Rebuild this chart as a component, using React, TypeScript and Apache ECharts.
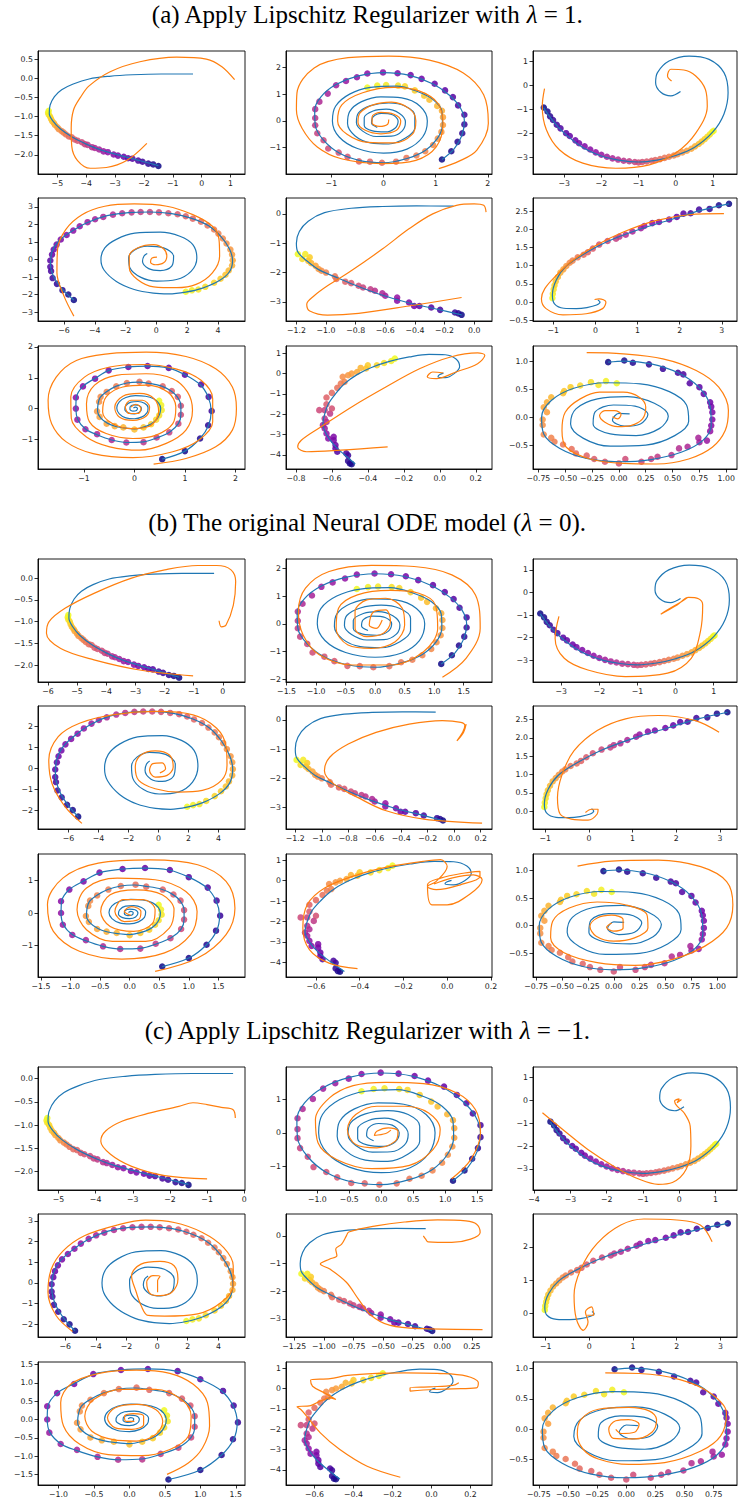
import React, { useEffect, useRef } from "react";
import * as echarts from "echarts";

type Pts = number[][];

const TITLES = [
  "(a) Apply Lipschitz Regularizer with {i|λ} = 1.",
  "(b) The original Neural ODE model ({i|λ} = 0).",
  "(c) Apply Lipschitz Regularizer with {i|λ} = −1.",
];

// ---------- ground-truth trajectories (blue), shared by the three sections ----------
const BLUE_1: Pts = [[-1.5,-2.28],[-2.0,-2.18],[-2.5,-2.08],[-3.0,-1.98],[-3.5,-1.87],[-4.0,-1.72],[-4.5,-1.53],[-4.9,-1.32],[-5.15,-1.12],[-5.28,-0.92],[-5.25,-0.7],[-5.1,-0.48],[-4.85,-0.3],[-4.45,-0.15],[-3.9,-0.02],[-3.2,0.05],[-2.4,0.09],[-1.4,0.11],[-0.3,0.11]];
const BLUE_2: Pts = [[1.12,-1.44],[1.35,-1.05],[1.5,-0.55],[1.55,0.0],[1.47,0.5],[1.27,0.95],[0.95,1.38],[0.5,1.7],[0.0,1.8],[-0.5,1.67],[-0.92,1.35],[-1.2,0.9],[-1.32,0.4],[-1.31,-0.15],[-1.15,-0.72],[-0.85,-1.2],[-0.45,-1.48],[0.0,-1.56],[0.45,-1.4],[0.8,-1.1],[1.03,-0.66],[1.13,-0.15],[1.12,0.35],[0.95,0.8],[0.65,1.1],[0.25,1.3],[-0.25,1.25],[-0.65,1.0],[-0.92,0.55],[-0.98,0.0],[-0.85,-0.6],[-0.5,-1.03],[0.0,-1.2],[0.45,-1.05],[0.75,-0.6],[0.84,0.0],[0.7,0.55],[0.35,0.86],[-0.05,0.9],[-0.42,0.72],[-0.65,0.35],[-0.69,-0.1],[-0.55,-0.55],[-0.25,-0.82],[0.1,-0.86],[0.42,-0.64],[0.6,-0.25],[0.6,0.2],[0.42,0.55],[0.1,0.67],[-0.25,0.57],[-0.48,0.3],[-0.52,-0.06],[-0.4,-0.38],[-0.14,-0.58],[0.15,-0.57],[0.36,-0.37],[0.42,-0.04],[0.3,0.29],[0.05,0.44],[-0.2,0.37],[-0.37,0.12],[-0.37,-0.17],[-0.21,-0.37],[0.03,-0.41],[0.22,-0.27],[0.28,0.0],[0.17,0.23],[-0.04,0.28],[-0.2,0.15],[-0.23,-0.08],[-0.12,-0.24]];
const BLUE_3: Pts = [[-3.55,-0.95],[-3.3,-1.5],[-3.0,-2.0],[-2.5,-2.6],[-2.0,-2.95],[-1.5,-3.13],[-1.0,-3.2],[-0.5,-3.12],[0.0,-2.93],[0.5,-2.6],[1.0,-1.95],[1.3,-1.2],[1.41,-0.32],[1.3,0.52],[0.9,1.07],[0.36,1.21],[-0.18,1.0],[-0.49,0.52],[-0.54,0.1],[-0.4,-0.3],[-0.13,-0.45],[0.13,-0.27]];
const BLUE_4: Pts = [[-5.36,-2.31],[-6.0,-1.8],[-6.6,-1.1],[-6.88,-0.3],[-6.8,0.4],[-6.4,1.0],[-5.6,1.55],[-4.5,2.1],[-3.2,2.5],[-1.8,2.68],[-0.4,2.71],[1.0,2.62],[2.3,2.35],[3.4,1.92],[4.2,1.3],[4.75,0.6],[4.95,-0.05],[4.75,-0.7],[4.1,-1.2],[3.0,-1.63],[1.9,-1.86],[0.8,-1.96],[-0.2,-1.92],[-1.44,-1.71],[-2.6,-1.25],[-3.4,-0.6],[-3.6,0.0],[-3.35,0.66],[-2.6,1.15],[-1.4,1.5],[0.25,1.56],[1.53,1.33],[2.37,0.85],[2.63,0.09],[2.27,-0.66],[1.31,-1.14],[0.04,-1.23],[-1.0,-1.02],[-1.72,-0.47],[-1.8,0.09],[-1.44,0.53],[-0.6,0.76],[0.47,0.66],[1.12,0.19],[1.0,-0.38],[0.25,-0.63],[-0.5,-0.52],[-0.9,-0.1],[-0.8,0.2],[-0.59,0.34]];
const BLUE_5: Pts = [[-0.085,-3.44],[-0.25,-3.25],[-0.45,-3.02],[-0.65,-2.72],[-0.82,-2.4],[-0.95,-2.12],[-1.05,-1.9],[-1.13,-1.6],[-1.19,-1.3],[-1.2,-1.0],[-1.18,-0.6],[-1.12,-0.25],[-1.01,0.04],[-0.83,0.19],[-0.62,0.25],[-0.39,0.27],[-0.14,0.26]];
const BLUE_6: Pts = [[3.17,2.7],[2.5,2.52],[1.8,2.27],[1.0,1.98],[0.3,1.67],[-0.3,1.3],[-0.7,0.98],[-0.93,0.6],[-1.02,0.2],[-0.97,-0.05],[-0.75,-0.17],[-0.45,-0.18],[-0.2,-0.15],[0.03,-0.08],[0.11,0.0],[0.06,0.06]];
const BLUE_7: Pts = [[0.55,-1.64],[1.0,-1.38],[1.3,-0.97],[1.47,-0.54],[1.52,-0.08],[1.46,0.38],[1.3,0.78],[1.0,1.1],[0.66,1.32],[0.26,1.38],[-0.12,1.35],[-0.5,1.24],[-0.78,0.98],[-1.02,0.72],[-1.15,0.36],[-1.16,0.0],[-1.12,-0.36],[-0.97,-0.66],[-0.74,-0.85],[-0.45,-1.02],[-0.15,-1.1],[0.18,-1.08],[0.46,-0.94],[0.7,-0.76],[0.87,-0.49],[0.92,-0.2],[0.92,0.09],[0.85,0.38],[0.72,0.58],[0.54,0.73],[0.28,0.82],[0.08,0.86],[-0.15,0.83],[-0.37,0.72],[-0.56,0.54],[-0.68,0.36],[-0.72,0.15],[-0.73,-0.09],[-0.67,-0.3],[-0.53,-0.48],[-0.37,-0.58],[-0.2,-0.63],[0.0,-0.66],[0.18,-0.6],[0.33,-0.5],[0.44,-0.35],[0.5,-0.18],[0.52,0.0],[0.48,0.18],[0.38,0.32],[0.22,0.4],[0.02,0.42],[-0.17,0.36],[-0.3,0.22],[-0.35,0.02],[-0.3,-0.17],[-0.17,-0.3],[0.0,-0.33],[0.15,-0.27],[0.25,-0.13],[0.27,0.03],[0.2,0.17],[0.07,0.23],[-0.07,0.21],[-0.17,0.1],[-0.19,-0.03],[-0.12,-0.14],[0.0,-0.17],[0.1,-0.12],[0.14,0.0],[0.09,0.1],[0.0,0.12],[-0.08,0.07],[-0.09,-0.02],[-0.03,-0.08],[0.04,-0.06],[0.06,0.01],[0.02,0.05],[-0.02,0.02]];
const BLUE_8: Pts = [[-0.47,-4.45],[-0.53,-4.0],[-0.59,-3.5],[-0.63,-3.0],[-0.65,-2.5],[-0.64,-2.0],[-0.62,-1.5],[-0.58,-1.0],[-0.53,-0.5],[-0.46,-0.05],[-0.38,0.3],[-0.28,0.6],[-0.17,0.82],[-0.06,0.95],[0.03,0.93],[0.09,0.72],[0.11,0.35],[0.08,0.0],[0.03,-0.2],[-0.01,-0.15],[0.0,-0.05],[0.02,0.02]];
const BLUE_9: Pts = [[-0.1,0.99],[0.05,1.01],[0.3,0.96],[0.55,0.8],[0.74,0.55],[0.85,0.2],[0.86,-0.15],[0.78,-0.42],[0.58,-0.63],[0.3,-0.76],[0.0,-0.8],[-0.3,-0.74],[-0.55,-0.56],[-0.7,-0.3],[-0.72,0.0],[-0.63,0.3],[-0.42,0.52],[-0.12,0.62],[0.2,0.6],[0.47,0.46],[0.63,0.22],[0.65,-0.07],[0.52,-0.33],[0.25,-0.5],[-0.08,-0.52],[-0.33,-0.38],[-0.45,-0.12],[-0.4,0.15],[-0.2,0.33],[0.08,0.37],[0.33,0.25],[0.46,0.02],[0.38,-0.2],[0.16,-0.33],[-0.08,-0.3],[-0.24,-0.12],[-0.22,0.1],[-0.05,0.22],[0.15,0.2],[0.27,0.05],[0.2,-0.12],[0.05,-0.16],[-0.06,-0.05],[0.0,0.07],[0.1,0.06]];

// ---------- observed samples (coloured by time, dark -> yellow) ----------
const DOTS_1: Pts = [[-1.5,-2.29],[-1.68,-2.25],[-1.85,-2.23],[-2.05,-2.18],[-2.2,-2.15],[-2.4,-2.1],[-2.55,-2.09],[-2.7,-2.05],[-2.9,-2.02],[-3.05,-1.99],[-3.25,-1.93],[-3.4,-1.91],[-3.55,-1.86],[-3.7,-1.82],[-3.8,-1.8],[-3.95,-1.74],[-4.05,-1.72],[-4.15,-1.67],[-4.3,-1.63],[-4.4,-1.6],[-4.5,-1.54],[-4.6,-1.52],[-4.7,-1.47],[-4.78,-1.42],[-4.85,-1.38],[-4.95,-1.33],[-5.0,-1.28],[-5.08,-1.22],[-5.12,-1.17],[-5.18,-1.12],[-5.22,-1.06],[-5.25,-1.0],[-5.3,-0.95],[-5.32,-0.9],[-5.3,-0.85]];
const DOTS_2: Pts = [[1.12,-1.44],[1.30,-1.13],[1.42,-0.78],[1.51,-0.46],[1.55,-0.13],[1.55,0.23],[1.43,0.58],[1.33,0.89],[1.18,1.14],[0.98,1.39],[0.73,1.57],[0.52,1.71],[0.27,1.78],[-0.01,1.81],[-0.31,1.77],[-0.51,1.63],[-0.72,1.49],[-0.91,1.33],[-1.07,1.02],[-1.23,0.72],[-1.31,0.44],[-1.31,0.11],[-1.31,-0.16],[-1.27,-0.46],[-1.15,-0.72],[-1.06,-1.03],[-0.86,-1.18],[-0.69,-1.34],[-0.47,-1.51],[-0.26,-1.52],[-0.03,-1.56],[0.24,-1.52],[0.44,-1.38],[0.63,-1.29],[0.80,-1.13],[0.95,-0.90],[1.04,-0.66],[1.11,-0.41],[1.14,-0.15],[1.14,0.14],[1.12,0.38],[1.03,0.56],[0.88,0.79],[0.78,0.94],[0.60,1.14],[0.41,1.29],[0.28,1.32],[0.05,1.34],[-0.12,1.32],[-0.31,1.25]];
const DOTS_3: Pts = [[-3.55,-0.93],[-3.45,-1.1],[-3.38,-1.3],[-3.3,-1.45],[-3.2,-1.65],[-3.1,-1.8],[-2.95,-2.0],[-2.85,-2.12],[-2.7,-2.3],[-2.6,-2.42],[-2.45,-2.55],[-2.3,-2.68],[-2.15,-2.8],[-2.0,-2.9],[-1.85,-2.98],[-1.7,-3.05],[-1.55,-3.1],[-1.4,-3.15],[-1.25,-3.17],[-1.1,-3.2],[-1.0,-3.22],[-0.9,-3.2],[-0.78,-3.18],[-0.65,-3.15],[-0.55,-3.12],[-0.42,-3.08],[-0.3,-3.03],[-0.18,-2.98],[-0.05,-2.93],[0.05,-2.88],[0.18,-2.8],[0.3,-2.73],[0.42,-2.65],[0.52,-2.55],[0.62,-2.45],[0.7,-2.35],[0.78,-2.25],[0.85,-2.15],[0.92,-2.05],[0.98,-1.95],[1.02,-1.9]];
const DOTS_4: Pts = [[-5.36,-2.31],[-5.72,-2.0],[-6.1,-1.75],[-6.46,-1.39],[-6.74,-1.06],[-6.84,-0.66],[-6.89,-0.42],[-6.89,-0.06],[-6.78,0.28],[-6.67,0.57],[-6.48,0.85],[-6.21,1.14],[-5.83,1.4],[-5.4,1.65],[-4.98,1.9],[-4.47,2.13],[-3.98,2.3],[-3.45,2.43],[-2.82,2.56],[-2.22,2.64],[-1.61,2.69],[-1.02,2.71],[-0.42,2.71],[0.17,2.69],[0.78,2.64],[1.38,2.58],[1.91,2.47],[2.37,2.33],[2.9,2.16],[3.33,1.94],[3.75,1.71],[4.03,1.48],[4.32,1.2],[4.56,0.91],[4.81,0.57],[4.92,0.28],[4.96,-0.04],[4.92,-0.34],[4.7,-0.63],[4.49,-0.87],[4.17,-1.1],[3.75,-1.33],[3.18,-1.56],[2.73,-1.71],[2.31,-1.76],[1.91,-1.84]];
const DOTS_5: Pts = [[-0.085,-3.44],[-0.107,-3.39],[-0.13,-3.36],[-0.23,-3.27],[-0.29,-3.19],[-0.37,-3.14],[-0.405,-3.14],[-0.44,-3.02],[-0.52,-2.96],[-0.52,-2.85],[-0.6,-2.79],[-0.62,-2.71],[-0.67,-2.62],[-0.7,-2.57],[-0.75,-2.51],[-0.78,-2.45],[-0.83,-2.36],[-0.87,-2.31],[-0.93,-2.22],[-0.94,-2.13],[-1.0,-2.0],[-1.03,-1.94],[-1.05,-1.88],[-1.07,-1.77],[-1.1,-1.68],[-1.12,-1.6],[-1.11,-1.48],[-1.16,-1.54],[-1.14,-1.37],[-1.19,-1.37]];
const DOTS_6: Pts = [[3.17,2.7],[2.93,2.66],[2.71,2.56],[2.46,2.54],[2.26,2.44],[2.09,2.43],[1.93,2.34],[1.75,2.27],[1.51,2.2],[1.35,2.17],[1.16,2.09],[1.08,2.03],[0.88,1.94],[0.72,1.85],[0.57,1.8],[0.49,1.74],[0.29,1.68],[0.09,1.58],[-0.06,1.47],[-0.18,1.37],[-0.28,1.3],[-0.42,1.23],[-0.54,1.14],[-0.61,1.08],[-0.69,0.99],[-0.76,0.9],[-0.83,0.81],[-0.89,0.69],[-0.94,0.57],[-0.97,0.46],[-0.99,0.35],[-1.01,0.23],[-1.02,0.11]];
const DOTS_7: Pts = [[0.55,-1.64],[1.0,-1.38],[1.3,-0.97],[1.46,-0.54],[1.53,-0.08],[1.47,0.38],[1.32,0.78],[1.0,1.1],[0.68,1.32],[0.26,1.38],[-0.12,1.35],[-0.51,1.24],[-0.78,0.97],[-1.02,0.72],[-1.16,0.36],[-1.16,0.0],[-1.13,-0.36],[-0.97,-0.67],[-0.74,-0.83],[-0.45,-1.02],[-0.16,-1.1],[0.18,-1.09],[0.44,-0.94],[0.69,-0.77],[0.87,-0.49],[0.92,-0.2],[0.92,0.09],[0.86,0.38],[0.74,0.57],[0.56,0.72],[0.28,0.81],[0.1,0.87],[-0.15,0.83],[-0.36,0.72],[-0.55,0.54],[-0.67,0.38],[-0.7,0.22],[-0.74,-0.09],[-0.69,-0.27],[-0.55,-0.49],[-0.39,-0.57],[-0.22,-0.61],[0.0,-0.68],[0.18,-0.61],[0.33,-0.51],[0.43,-0.36],[0.49,-0.22],[0.54,-0.05],[0.53,0.11],[0.49,0.25]];
const DOTS_8: Pts = [[-0.49,-4.46],[-0.5,-4.43],[-0.51,-4.3],[-0.51,-4.02],[-0.52,-3.93],[-0.57,-3.85],[-0.58,-3.69],[-0.58,-3.52],[-0.59,-3.28],[-0.59,-3.11],[-0.62,-3.2],[-0.63,-2.95],[-0.64,-2.7],[-0.65,-2.54],[-0.63,-2.38],[-0.64,-2.21],[-0.61,-1.97],[-0.64,-1.8],[-0.67,-1.8],[-0.6,-1.72],[-0.63,-1.51],[-0.63,-1.18],[-0.6,-0.95],[-0.57,-0.7],[-0.55,-0.49],[-0.53,-0.41],[-0.54,-0.16],[-0.51,-0.08],[-0.49,0.0],[-0.46,0.08],[-0.44,0.28],[-0.41,0.25],[-0.4,0.41],[-0.35,0.41],[-0.31,0.52],[-0.27,0.62],[-0.25,0.74]];
const DOTS_9: Pts = [[-0.1,0.99],[0.05,1.02],[0.13,0.98],[0.28,0.95],[0.41,0.87],[0.55,0.8],[0.6,0.77],[0.66,0.61],[0.75,0.54],[0.79,0.42],[0.85,0.27],[0.86,0.19],[0.87,0.09],[0.87,-0.04],[0.86,-0.15],[0.85,-0.25],[0.82,-0.42],[0.75,-0.45],[0.74,-0.37],[0.64,-0.53],[0.56,-0.56],[0.49,-0.68],[0.36,-0.71],[0.3,-0.75],[0.21,-0.8],[0.06,-0.75],[0.0,-0.83],[-0.13,-0.8],[-0.23,-0.75],[-0.3,-0.69],[-0.4,-0.65],[-0.44,-0.57],[-0.52,-0.49],[-0.6,-0.44],[-0.63,-0.37],[-0.7,-0.31],[-0.71,-0.14],[-0.71,-0.04],[-0.67,0.09],[-0.7,0.18],[-0.67,0.27],[-0.63,0.36],[-0.52,0.43],[-0.51,0.47],[-0.45,0.54],[-0.36,0.57],[-0.26,0.63],[-0.19,0.58],[-0.12,0.65],[-0.02,0.61]];

// ---------- model predictions (orange) ----------
const A1: Pts = [[-1.9,-1.7],[-2.6,-2.15],[-3.3,-2.33],[-3.86,-2.35],[-4.3,-2.15],[-4.5,-1.78],[-4.52,-1.3],[-4.44,-0.83],[-4.2,-0.5],[-3.9,-0.2],[-3.17,0.17],[-2.14,0.43],[-0.87,0.55],[0.16,0.5],[0.7,0.3],[1.14,-0.04]];
const A2: Pts = [[1.06,-1.78],[1.45,-1.5],[1.79,-1.09],[2.01,-0.09],[1.92,0.98],[1.53,1.79],[0.88,2.27],[0.1,2.42],[-0.68,2.36],[-1.33,1.98],[-1.66,1.04],[-1.67,0.41],[-1.56,-0.28],[-1.27,-0.97],[-0.81,-1.41],[-0.03,-1.59],[0.62,-1.47],[1.01,-0.97],[1.14,-0.09],[1.04,0.66],[0.68,1.12],[0.2,1.25],[-0.4,1.05],[-0.8,0.6],[-0.88,0.0],[-0.7,-0.5],[-0.3,-0.8],[0.2,-0.82],[0.55,-0.5],[0.62,0.0],[0.5,0.45],[0.15,0.7],[-0.2,0.6],[-0.45,0.3],[-0.49,-0.05],[-0.35,-0.35],[-0.05,-0.48],[0.25,-0.35],[0.33,0.0],[0.2,0.25],[-0.05,0.32],[-0.22,0.15],[-0.22,-0.08],[-0.08,-0.2],[0.08,-0.12],[0.1,0.05]];
const A3: Pts = [[-3.53,-0.15],[-3.59,-0.88],[-3.48,-1.86],[-3.13,-2.69],[-2.5,-3.25],[-1.61,-3.46],[-0.71,-3.32],[0.0,-2.83],[0.54,-2.0],[0.85,-0.88],[0.8,-0.18],[0.54,0.38],[0.22,0.63],[-0.13,0.66],[-0.22,0.38],[-0.11,0.17]];
const A4: Pts = [[-5.36,-3.23],[-6.0,-2.09],[-6.46,-0.76],[-6.42,0.57],[-5.89,1.71],[-4.83,2.56],[-3.35,3.04],[-1.44,3.17],[0.68,3.04],[2.37,2.56],[3.64,1.9],[4.07,1.14],[4.11,0.19],[3.64,-0.76],[2.58,-1.42],[1.31,-1.61],[-0.17,-1.56],[-1.23,-1.14],[-1.76,-0.47],[-1.76,0.19],[-1.23,0.66],[-0.17,0.85],[0.47,0.61],[0.68,0.19],[0.47,-0.19],[-0.06,-0.3],[-0.38,-0.15],[-0.28,0.09],[0.04,0.13]];
const A5: Pts = [[-0.085,-2.85],[-0.44,-3.14],[-0.78,-3.39],[-0.99,-3.45],[-1.11,-3.31],[-1.13,-3.08],[-1.08,-2.79],[-0.99,-2.45],[-0.83,-1.94],[-0.62,-1.2],[-0.44,-0.51],[-0.28,0.0],[-0.12,0.29],[0.0,0.34],[0.064,0.29],[0.08,0.06]];
const A6: Pts = [[3.05,2.43],[2.22,2.4],[1.43,2.24],[0.65,1.92],[0.02,1.56],[-0.54,1.14],[-0.93,0.73],[-1.2,0.37],[-1.28,0.09],[-1.17,-0.18],[-0.77,-0.35],[-0.22,-0.32],[0.17,-0.18],[0.25,0.0],[0.09,0.09],[-0.02,0.07]];
const A7: Pts = [[0.38,-1.8],[1.02,-1.62],[1.61,-1.24],[1.94,-0.7],[2.02,0],[1.94,0.7],[1.61,1.29],[1.02,1.69],[0.23,1.83],[-0.49,1.78],[-1.15,1.56],[-1.55,1.02],[-1.71,0.27],[-1.64,-0.49],[-1.35,-1.08],[-0.82,-1.46],[-0.03,-1.59],[0.76,-1.4],[1.28,-1.02],[1.55,-0.43],[1.55,0.32],[1.32,0.92],[0.82,1.29],[0.16,1.43],[-0.49,1.35],[-0.99,1.02],[-1.26,0.38],[-1.25,-0.32],[-0.95,-0.92],[-0.49,-1.24],[0.1,-1.35],[0.63,-1.13],[1.02,-0.7],[1.15,-0.05],[1.05,0.54],[0.76,0.97],[0.23,1.13],[-0.36,1.08],[-0.79,0.76],[-0.95,0.16],[-0.89,-0.43],[-0.56,-0.81],[-0.03,-0.97],[0.43,-0.86],[0.76,-0.49],[0.82,0.05],[0.66,0.54],[0.23,0.76],[-0.23,0.7],[-0.56,0.38],[-0.63,-0.11],[-0.43,-0.49],[-0.03,-0.65],[0.33,-0.54],[0.48,-0.11],[0.39,0.32],[0.1,0.49],[-0.23,0.4],[-0.39,0.05],[-0.3,-0.27],[-0.03,-0.38],[0.23,-0.25],[0.3,0.05],[0.16,0.27],[-0.07,0.27],[-0.18,0.05],[-0.1,-0.16],[0.07,-0.16],[0.13,0],[0.03,0.14],[-0.07,0.05]];
const A8: Pts = [[-0.29,-3.61],[-0.55,-3.77],[-0.74,-3.85],[-0.79,-3.61],[-0.77,-3.28],[-0.66,-2.62],[-0.49,-1.64],[-0.3,-0.66],[-0.11,0.25],[0.06,0.82],[0.21,1.02],[0.25,0.9],[0.21,0.49],[0.09,0.08],[-0.02,-0.25],[-0.07,-0.16],[-0.04,0.08],[0.02,0.03]];
const A9: Pts = [[-0.3,1.16],[0.04,1.14],[0.41,1.05],[0.72,0.84],[0.93,0.54],[1.02,0.12],[0.99,-0.24],[0.87,-0.54],[0.65,-0.75],[0.35,-0.84],[0.04,-0.83],[-0.27,-0.75],[-0.49,-0.54],[-0.53,-0.24],[-0.5,0.09],[-0.36,0.33],[-0.18,0.45],[0.04,0.45],[0.19,0.36],[0.25,0.18],[0.22,-0.03],[0.11,-0.15],[-0.01,-0.17],[-0.13,-0.09],[-0.18,0.03],[-0.13,0.12],[-0.04,0.12],[0.02,0.05],[-0.01,-0.03],[-0.06,0.01]];

const B1: Pts = [[-1.02,-2.25],[-2.8,-2.12],[-4.42,-1.88],[-5.56,-1.62],[-6.05,-1.27],[-5.96,-1.0],[-5.4,-0.69],[-4.42,-0.35],[-3.13,0.0],[-1.99,0.19],[-0.86,0.29],[-0.21,0.29],[0.28,0.19],[0.44,-0.08],[0.36,-0.62],[0.11,-1.08],[-0.05,-1.12],[-0.13,-0.98]];
const B2: Pts = [[1.14,-1.92],[1.54,-1.24],[1.78,-0.16],[1.7,1.04],[1.3,1.76],[0.66,2.06],[-0.06,2.1],[-0.78,1.88],[-1.18,1.28],[-1.3,0.44],[-1.22,-0.4],[-0.94,-1.12],[-0.38,-1.48],[0.26,-1.48],[0.82,-1.0],[1.06,-0.16],[1.02,0.68],[0.74,1.1],[0.26,1.2],[-0.3,1.04],[-0.62,0.56],[-0.66,-0.16],[-0.46,-0.76],[-0.06,-0.88],[0.34,-0.64],[0.5,-0.04],[0.46,0.56],[0.18,0.92],[-0.14,0.86],[-0.34,0.44],[-0.34,-0.16],[-0.14,-0.46],[0.14,-0.34],[0.26,0.08],[0.18,0.5],[-0.02,0.44],[-0.1,-0.04],[0.02,-0.16],[0.12,0.14]];
const B3: Pts = [[-3.06,-1.06],[-3.16,-2.02],[-2.92,-2.91],[-2.3,-3.43],[-1.32,-3.72],[-0.21,-3.57],[0.41,-2.91],[0.65,-1.73],[0.71,-0.55],[0.6,-0.28],[0.34,-0.22],[0.04,-0.55],[-0.39,-0.96],[-0.21,-0.77],[0.16,-0.4],[0.31,-0.22]];
const B4: Pts = [[-5.11,-2.63],[-6.21,-1.86],[-7.1,-0.74],[-7.32,0.39],[-6.69,1.51],[-5.27,2.15],[-3.06,2.55],[-0.22,2.71],[2.3,2.55],[3.88,1.91],[4.51,1.03],[4.57,0.14],[4.2,-0.58],[2.93,-1.06],[1.36,-1.14],[-0.22,-0.98],[-1.32,-0.58],[-1.55,0.06],[-1.17,0.63],[-0.22,0.83],[0.73,0.63],[0.98,0.06],[0.57,-0.34],[-0.22,-0.42],[-0.6,-0.1],[-0.38,0.22],[0.25,0.26],[0.47,-0.02],[0.09,-0.22]];
const B5: Pts = [[0.21,-3.53],[-0.23,-3.39],[-0.52,-3.1],[-0.73,-2.65],[-0.91,-2.19],[-0.98,-1.74],[-0.94,-1.28],[-0.8,-0.83],[-0.59,-0.43],[-0.34,-0.15],[-0.09,-0.03],[0.05,-0.09],[0.08,-0.2],[0.02,-0.72],[0.07,-0.43],[0.09,-0.15]];
const B6: Pts = [[2.98,2.15],[2.44,2.47],[1.59,2.61],[0.84,2.52],[0.19,2.2],[-0.34,1.65],[-0.61,1.01],[-0.72,0.37],[-0.66,-0.08],[-0.4,-0.22],[-0.02,-0.25],[0.19,-0.08],[0.21,0.05],[0.06,0.05],[-0.08,-0.04]];
const B7: Pts = [[0.43,-1.79],[1.15,-1.38],[1.63,-0.66],[1.78,0.15],[1.63,0.97],[1.15,1.48],[0.35,1.63],[-0.53,1.53],[-1.13,1.07],[-1.39,0.26],[-1.29,-0.56],[-0.85,-1.17],[-0.13,-1.41],[0.59,-1.22],[1.03,-0.66],[1.14,0.05],[0.95,0.66],[0.43,1.02],[-0.21,1.07],[-0.73,0.77],[-0.89,0.1],[-0.73,-0.51],[-0.29,-0.87],[0.27,-0.87],[0.67,-0.46],[0.75,0.1],[0.55,0.56],[0.11,0.71],[-0.33,0.56],[-0.49,0.05],[-0.33,-0.41],[0.07,-0.56],[0.39,-0.31],[0.43,0.1],[0.23,0.41],[-0.11,0.41],[-0.25,0.05],[-0.09,-0.26],[0.15,-0.2],[0.19,0.05],[0.03,0.2],[-0.09,0.05],[0.02,-0.07]];
const B8: Pts = [[-0.41,-4.31],[-0.54,-4.04],[-0.63,-3.38],[-0.66,-2.32],[-0.64,-1.18],[-0.56,-0.36],[-0.41,0.29],[-0.26,0.7],[-0.11,0.95],[-0.03,1.03],[0.0,0.7],[-0.05,-0.03],[-0.09,-0.28],[-0.05,-0.44],[0.06,-0.2],[0.15,0.21],[0.15,0.46],[0.08,0.38],[-0.03,0.13],[-0.09,-0.2],[-0.07,-1.18],[0.0,-1.18],[0.1,-0.69],[0.16,0.05],[0.12,0.29],[0.02,0.13],[-0.06,-0.16]];
const B9: Pts = [[-0.35,1.08],[-0.02,1.17],[0.43,1.19],[0.84,1.07],[1.09,0.8],[1.15,0.38],[1.09,-0.04],[0.88,-0.37],[0.57,-0.61],[0.2,-0.72],[-0.16,-0.67],[-0.48,-0.49],[-0.61,-0.22],[-0.59,0.08],[-0.43,0.32],[-0.16,0.43],[0.11,0.38],[0.32,0.2],[0.33,-0.04],[0.2,-0.22],[0.0,-0.28],[-0.17,-0.19],[-0.23,-0.01],[-0.16,0.14],[-0.02,0.19],[0.09,0.11],[0.09,-0.04],[0.0,-0.1],[-0.07,-0.03],[-0.02,0.05]];

const C1: Pts = [[-1.0,-2.16],[-2.14,-2.09],[-3.03,-1.89],[-3.6,-1.63],[-3.86,-1.35],[-3.73,-1.13],[-3.29,-0.92],[-2.53,-0.74],[-1.76,-0.6],[-1.38,-0.52],[-1.0,-0.56],[-0.62,-0.62],[-0.3,-0.67],[-0.24,-0.85]];
const C2: Pts = [[1.1,-1.38],[1.4,-0.8],[1.55,0],[1.47,0.7],[1.18,1.2],[0.66,1.48],[0.07,1.52],[-0.44,1.42],[-0.81,1.05],[-1.03,0.4],[-0.99,-0.3],[-0.7,-0.8],[-0.15,-1.08],[0.44,-0.98],[0.81,-0.5],[0.92,0.1],[0.74,0.6],[0.37,0.8],[-0.07,0.8],[-0.4,0.55],[-0.53,0.1],[-0.4,-0.35],[-0.07,-0.45],[0.22,-0.25],[0.26,0.05],[0.11,0.15],[-0.07,0.05],[-0.11,-0.08],[0.07,-0.02],[0.15,0.08]];
const C3: Pts = [[-3.77,-0.54],[-3.16,-1.34],[-2.52,-2.15],[-1.74,-2.95],[-1.1,-3.46],[-0.58,-3.68],[-0.19,-3.6],[0.19,-3.02],[0.32,-2.0],[0.3,-1.12],[0.13,-0.54],[-0.06,-0.25],[-0.13,-0.03],[0,0.07],[-0.06,-0.1],[0.06,0.04]];
const C4: Pts = [[-5.52,-2.34],[-6.6,-1.57],[-7.13,-0.45],[-6.91,0.67],[-6.14,1.55],[-4.75,2.28],[-2.59,2.8],[-0.74,3.03],[1.11,2.92],[2.96,2.44],[4.35,1.71],[4.97,0.83],[4.97,-0.13],[4.2,-0.93],[2.65,-1.49],[0.49,-1.6],[-0.59,-1.57],[-1.05,-1.09],[-1.36,-0.45],[-1.67,0.35],[-1.05,0.91],[0.19,1.04],[1.11,0.83],[1.36,0.19],[0.96,-0.45],[0.19,-0.61],[-0.43,-0.53],[-0.68,0.03],[-0.28,0.35],[0.19,0.32],[0.03,0.11],[0.03,-0.45]];
const C5: Pts = [[0.34,-3.39],[-0.16,-3.36],[-0.44,-3.24],[-0.6,-2.88],[-0.71,-2.28],[-0.81,-1.68],[-0.95,-1.2],[-1.03,-1.02],[-0.95,-0.84],[-0.89,-0.72],[-0.9,-0.48],[-0.85,-0.3],[-0.81,0],[-0.79,0.14],[-0.56,0.36],[-0.32,0.5],[-0.04,0.58],[0.2,0.54],[0.29,0.42],[0.32,0.12],[0.24,-0.12],[0.08,-0.24],[-0.12,-0.22],[-0.14,-0.12],[-0.16,0]];
const C6: Pts = [[2.81,2.15],[2.54,2.65],[2.0,2.8],[1.25,2.83],[0.72,2.65],[0.18,2.1],[-0.19,1.35],[-0.35,0.55],[-0.3,-0.15],[-0.14,-0.5],[-0.03,-0.25],[-0.09,0.05],[0.05,0.2],[0.1,-0.05],[-0.05,-0.05]];
const C7: Pts = [[0.53,-1.5],[0.83,-1.19],[1.03,-0.78],[1.13,-0.18],[1.1,0.46],[0.9,0.96],[0.57,1.26],[0.1,1.35],[-0.43,1.26],[-0.83,0.96],[-0.97,0.46],[-0.93,-0.18],[-0.7,-0.68],[-0.3,-0.96],[0.17,-0.99],[0.57,-0.82],[0.83,-0.46],[0.87,0.09],[0.73,0.55],[0.37,0.82],[-0.1,0.82],[-0.5,0.55],[-0.63,0.09],[-0.53,-0.32],[-0.23,-0.55],[0.1,-0.59],[0.37,-0.41],[0.47,-0.05],[0.37,0.27],[0.1,0.41],[-0.2,0.32],[-0.31,0.05],[-0.2,-0.23],[0.03,-0.27],[0.2,-0.14],[0.2,0.09],[0.05,0.16],[-0.07,0.09],[-0.05,-0.05],[0.07,-0.05]];
const C8: Pts = [[-0.16,-4.36],[-0.33,-3.82],[-0.47,-3.0],[-0.57,-2.18],[-0.64,-1.36],[-0.67,-1.03],[-0.69,-0.9],[-0.62,-0.84],[-0.57,-0.62],[-0.52,-0.46],[-0.49,-0.54],[-0.55,-0.21],[-0.61,0.11],[-0.62,0.41],[-0.52,0.48],[-0.43,0.64],[-0.28,0.74],[-0.14,0.77],[0.03,0.74],[0.18,0.61],[0.24,0.28],[0.23,0.03],[0.11,-0.02],[0.01,-0.05],[-0.11,-0.13],[-0.11,0.03],[-0.01,0.08],[0.11,0.15],[0.14,0.28]];
const C9: Pts = [[-0.18,0.93],[0.11,0.92],[0.46,0.82],[0.72,0.6],[0.86,0.27],[0.81,-0.11],[0.64,-0.36],[0.33,-0.55],[0.02,-0.58],[-0.24,-0.49],[-0.37,-0.33],[-0.42,-0.08],[-0.39,0.16],[-0.24,0.33],[0.02,0.36],[0.2,0.3],[0.26,0.16],[0.22,-0.05],[0.07,-0.16],[-0.11,-0.15],[-0.15,0],[-0.09,0.14],[0.02,0.16],[0.11,0.08],[0.07,-0.05],[-0.04,-0.07],[-0.09,0]];

// ---------- axis limits and tick values ----------
const XLIM_A = [[-5.67,1.5],[-1.87,2.08],[-3.84,1.65],[-7.69,5.76],[-1.27,0.12],[-1.48,3.36],[-1.91,2.19],[-0.855,0.29],[-0.8,1.1]];
const YLIM_A = [[-2.5,0.71],[-1.98,2.61],[-3.7,1.42],[-3.51,3.51],[-3.65,0.54],[-0.52,2.86],[-1.96,2.03],[-4.7,1.36],[-0.93,1.28]];
const XLIM_B = [[-6.34,0.76],[-1.51,1.98],[-3.74,1.61],[-8.04,5.77],[-1.27,0.285],[-1.28,3.39],[-1.55,1.95],[-0.737,0.205],[-0.78,1.19]];
const YLIM_B = [[-2.39,0.44],[-2.09,2.33],[-3.96,1.48],[-2.9,2.97],[-3.73,0.47],[-0.49,2.87],[-1.96,1.81],[-4.72,1.31],[-0.93,1.3]];
const XLIM_C = [[-5.55,0.02],[-1.49,1.73],[-4.03,1.59],[-7.78,5.74],[-1.32,0.42],[-1.29,3.38],[-1.29,1.63],[-0.746,0.31],[-0.8,0.95]];
const YLIM_C = [[-2.4,0.25],[-1.72,1.98],[-3.93,1.47],[-2.61,3.33],[-3.66,0.79],[-0.7,2.98],[-1.79,1.57],[-4.74,1.3],[-0.92,1.11]];

const XTICKS_A = [[-5,-4,-3,-2,-1,0,1],[-1,0,1,2],[-3,-2,-1,0,1],[-6,-4,-2,0,2,4],[-1.2,-1.0,-0.8,-0.6,-0.4,-0.2,0.0],[-1,0,1,2,3],[-1,0,1,2],[-0.8,-0.6,-0.4,-0.2,0.0,0.2],[-0.75,-0.5,-0.25,0,0.25,0.5,0.75,1.0]];
const YTICKS_A = [[-2.0,-1.5,-1.0,-0.5,0.0,0.5],[-1,0,1,2],[-3,-2,-1,0,1],[-3,-2,-1,0,1,2,3],[-3,-2,-1,0],[-0.5,0.0,0.5,1.0,1.5,2.0,2.5],[-1,0,1,2],[-4,-3,-2,-1,0,1],[-0.5,0.0,0.5,1.0]];
const XTICKS_B = [[-6,-5,-4,-3,-2,-1,0],[-1.5,-1.0,-0.5,0.0,0.5,1.0,1.5],[-3,-2,-1,0,1],[-6,-4,-2,0,2,4],[-1.2,-1.0,-0.8,-0.6,-0.4,-0.2,0.0,0.2],[-1,0,1,2,3],[-1.5,-1.0,-0.5,0.0,0.5,1.0,1.5],[-0.6,-0.4,-0.2,0.0,0.2],[-0.75,-0.5,-0.25,0,0.25,0.5,0.75,1.0]];
const YTICKS_B = [[-2.0,-1.5,-1.0,-0.5,0.0],[-2,-1,0,1,2],[-3,-2,-1,0,1],[-2,-1,0,1,2],[-3,-2,-1,0],[0.0,0.5,1.0,1.5,2.0,2.5],[-1,0,1],[-4,-3,-2,-1,0,1],[-0.5,0.0,0.5,1.0]];
const XTICKS_C = [[-5,-4,-3,-2,-1,0],[-1.0,-0.5,0.0,0.5,1.0,1.5],[-4,-3,-2,-1,0,1],[-6,-4,-2,0,2,4],[-1.25,-1.0,-0.75,-0.5,-0.25,0,0.25],[-1,0,1,2,3],[-1.0,-0.5,0.0,0.5,1.0,1.5],[-0.6,-0.4,-0.2,0.0,0.2],[-0.75,-0.5,-0.25,0,0.25,0.5,0.75]];
const YTICKS_C = [[-2.0,-1.5,-1.0,-0.5,0.0],[-1,0,1],[-3,-2,-1,0,1],[-2,-1,0,1,2,3],[-3,-2,-1,0],[0,1,2],[-1.5,-1.0,-0.5,0.0,0.5,1.0,1.5],[-4,-3,-2,-1,0,1],[-0.5,0.0,0.5,1.0]];

const BLUES = [BLUE_1, BLUE_2, BLUE_3, BLUE_4, BLUE_5, BLUE_6, BLUE_7, BLUE_8, BLUE_9];
const DOTS = [DOTS_1, DOTS_2, DOTS_3, DOTS_4, DOTS_5, DOTS_6, DOTS_7, DOTS_8, DOTS_9];
const ORANGES = [
  [A1, A2, A3, A4, A5, A6, A7, A8, A9],
  [B1, B2, B3, B4, B5, B6, B7, B8, B9],
  [C1, C2, C3, C4, C5, C6, C7, C8, C9],
];
const XLIMS = [XLIM_A, XLIM_B, XLIM_C];
const YLIMS = [YLIM_A, YLIM_B, YLIM_C];
const XTICKS = [XTICKS_A, XTICKS_B, XTICKS_C];
const YTICKS = [YTICKS_A, YTICKS_B, YTICKS_C];

// ---------- styling ----------
const PLASMA = ["#0d0887","#41049d","#6a00a8","#8f0da4","#b12a90","#cc4778","#e16462","#f2844b","#fca636","#fcce25","#f0f921"];
function hex(c: string) { return [1, 3, 5].map((i) => parseInt(c.slice(i, i + 2), 16)); }
function plasma(t: number) {
  const x = Math.max(0, Math.min(1, t)) * 10;
  const i = Math.min(9, Math.floor(x));
  const f = x - i;
  const a = hex(PLASMA[i]), b = hex(PLASMA[i + 1]);
  const m = a.map((v, k) => Math.round(v + (b[k] - v) * f));
  return `rgb(${m[0]},${m[1]},${m[2]})`;
}
function decimals(ticks: number[]) {
  let d = 0;
  for (const t of ticks) {
    for (let k = 0; k < 4; k++) {
      const s = t * Math.pow(10, k);
      if (Math.abs(s - Math.round(s)) < 1e-9) { d = Math.max(d, k); break; }
    }
  }
  return d;
}
const fmt = (d: number) => (v: number) => {
  const s = Math.abs(v) < 1e-9 ? (0).toFixed(d) : v.toFixed(d);
  return s.replace("-", "\u2212");
};

const COL_LEFT = [38, 286, 533];
const COL_W = [207, 206, 204];
const ROW_TOP = [51, 198, 346];
const SECTION_DY = 508;
const PANEL_H = 123;

function axis(idx: number, lim: number[], ticks: number[]) {
  const vals = ticks.filter((t) => t >= lim[0] - 1e-9 && t <= lim[1] + 1e-9);
  const d = decimals(ticks);
  return {
    gridIndex: idx,
    type: "value",
    min: lim[0],
    max: lim[1],
    axisLine: { show: true, onZero: false, lineStyle: { color: "#000", width: 0.9 } },
    axisTick: { show: true, inside: false, length: 3.5, customValues: vals, lineStyle: { color: "#000", width: 0.8 } },
    axisLabel: {
      show: true,
      customValues: vals,
      formatter: fmt(d),
      fontSize: 7.8,
      fontFamily: "DejaVu Sans",
      color: "#222",
      margin: 5,
      hideOverlap: false,
    },
    splitLine: { show: false },
  };
}

function buildOption() {
  const grid: any[] = [], xAxis: any[] = [], yAxis: any[] = [], series: any[] = [];
  for (let s = 0; s < 3; s++) {
    for (let p = 0; p < 9; p++) {
      const idx = s * 9 + p;
      const r = Math.floor(p / 3), c = p % 3;
      grid.push({
        left: COL_LEFT[c], top: ROW_TOP[r] + SECTION_DY * s, width: COL_W[c], height: PANEL_H,
        show: true, borderColor: "#000", borderWidth: 0.9, backgroundColor: "#fff", containLabel: false,
      });
      xAxis.push(axis(idx, XLIMS[s][p], XTICKS[s][p]));
      yAxis.push(axis(idx, YLIMS[s][p], YTICKS[s][p]));
      const dots = DOTS[p];
      series.push({
        type: "scatter", xAxisIndex: idx, yAxisIndex: idx, silent: true, z: 2,
        symbolSize: 6.5,
        itemStyle: { opacity: 0.85 },
        data: dots.map((pt, k) => ({ value: pt, itemStyle: { color: plasma(k / (dots.length - 1)) } })),
      });
      series.push({
        type: "line", xAxisIndex: idx, yAxisIndex: idx, silent: true, z: 3,
        data: BLUES[p], showSymbol: false, symbol: "none", smooth: 0.35,
        lineStyle: { color: "#1f77b4", width: 1.2 },
      });
      series.push({
        type: "line", xAxisIndex: idx, yAxisIndex: idx, silent: true, z: 4,
        data: ORANGES[s][p], showSymbol: false, symbol: "none", smooth: 0.35,
        lineStyle: { color: "#ff7f0e", width: 1.2 },
      });
    }
  }
  const graphic = TITLES.map((t, s) => ({
    type: "text",
    x: 367,
    y: 14 + SECTION_DY * s,
    style: {
      text: t,
      font: '25px "Liberation Serif"',
      fill: "#000",
      align: "center",
      verticalAlign: "middle",
      rich: { i: { fontStyle: "italic", fontFamily: "Liberation Serif", fontSize: 25 } },
    },
  }));
  return { animation: false, backgroundColor: "#fff", grid, xAxis, yAxis, series, graphic };
}

export default function App() {
  const ref = useRef<HTMLDivElement>(null);
  useEffect(() => {
    if (!ref.current) return;
    const chart = echarts.init(ref.current, undefined, { renderer: "svg" });
    chart.setOption(buildOption() as any);
    return () => chart.dispose();
  }, []);
  return (
    <div
      ref={ref}
      style={{ position: "absolute", left: 0, top: 0, width: 738, height: 1502, background: "#fff" }}
    />
  );
}
